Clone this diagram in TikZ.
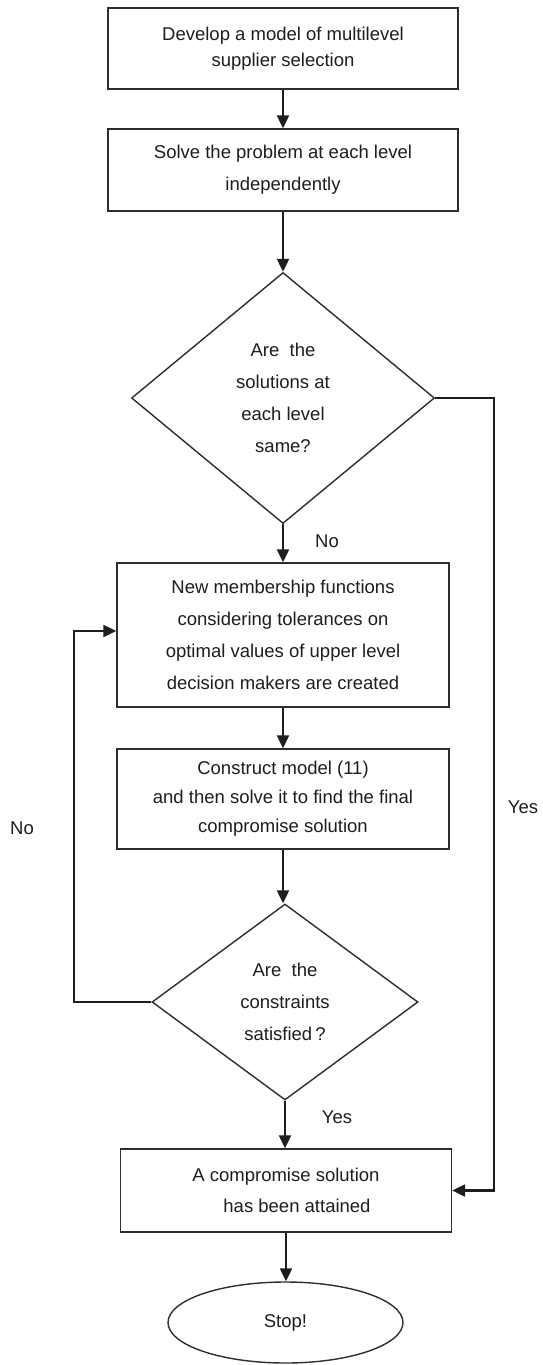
\documentclass[tikz,border=0pt]{standalone}
\usepackage{fontspec}
\setmainfont{Liberation Sans}
\usetikzlibrary{shapes.geometric,arrows.meta}
\definecolor{ink}{HTML}{1E1E1E}
\definecolor{edge}{HTML}{2E2E2E}
\begin{document}
\begin{tikzpicture}[x=1pt,y=-1pt,
  every node/.style={text=ink},
  procbox/.style={draw=edge,line width=1.4pt,rectangle,inner sep=0pt,align=center,
    font=\fontsize{18.5}{32}\selectfont},
  decbox/.style={draw=edge,line width=1.4pt,diamond,inner sep=0pt,align=center,
    font=\fontsize{18.5}{32}\selectfont},
  endbox/.style={draw=edge,line width=1.4pt,ellipse,inner sep=0pt,align=center,
    font=\fontsize{18.5}{32}\selectfont},
  conn/.style={draw=ink,line width=2.2pt,-{Triangle[width=12pt,length=13pt]}},
  lbl/.style={font=\fontsize{18.5}{22}\selectfont,inner sep=0pt}
]
\useasboundingbox[fill=white] (0,0) rectangle (543,1365);

\node[procbox,minimum width=350pt,minimum height=81pt,font=\fontsize{18.5}{26}\selectfont]
  (b1) at (283,48.5) {Develop a model of multilevel\\ supplier selection};
\node[procbox,minimum width=350pt,minimum height=82pt]
  (b2) at (283,170) {Solve the problem at each level\\ independently};
\node[decbox,minimum width=303pt,minimum height=251pt]
  (d1) at (283,398) {Are\ \ the\\ solutions at\\ each level\\ same?};
\node[procbox,minimum width=332pt,minimum height=144pt]
  (b3) at (283,635) {New membership functions\\ considering tolerances on\\ optimal values of upper level\\ decision makers are created};
\node[procbox,minimum width=332pt,minimum height=100pt,font=\fontsize{18.5}{29}\selectfont]
  (b4) at (283,799) {Construct model (11)\\ and then solve it to find the final\\ compromise solution};
\node[decbox,minimum width=266pt,minimum height=196pt]
  (d2) at (285,1002) {Are\ \ the\\ constraints\\ satisfied\,?};
\node[procbox,minimum width=331pt,minimum height=83pt,font=\fontsize{18.5}{31}\selectfont]
  (b5) at (286,1190.5) {A compromise solution\\ \hspace*{22pt}has been attained};
\node[endbox,minimum width=235pt,minimum height=81pt]
  (e) at (285.5,1322.5) {Stop!};

\coordinate (rt) at (494,398);
\coordinate (lt) at (74,631);

\draw[conn] (b1.south) -- (b2.north);
\draw[conn] (b2.south) -- (d1.north);
\draw[conn] (d1.south) -- (b3.north);
\draw[conn] (b3.south) -- (b4.north);
\draw[conn] (b4.south) -- (b4.south |- d2.north);
\draw[conn] (d2.south) -- (d2.south |- b5.north);
\draw[conn] (b5.south) -- (b5.south |- e.north);
\draw[conn] (d1.east) -- (rt) |- (b5.east);
\draw[conn] (d2.west) -| (lt) -- (b3.west |- lt);

\node[lbl] (no1) at (327,541) {No};
\node[lbl] (yes1) at (337,1117) {Yes};
\node[lbl] (yes2) at (523,807) {Yes};
\node[lbl] (no2) at (22,828) {No};
\end{tikzpicture}
\end{document}
